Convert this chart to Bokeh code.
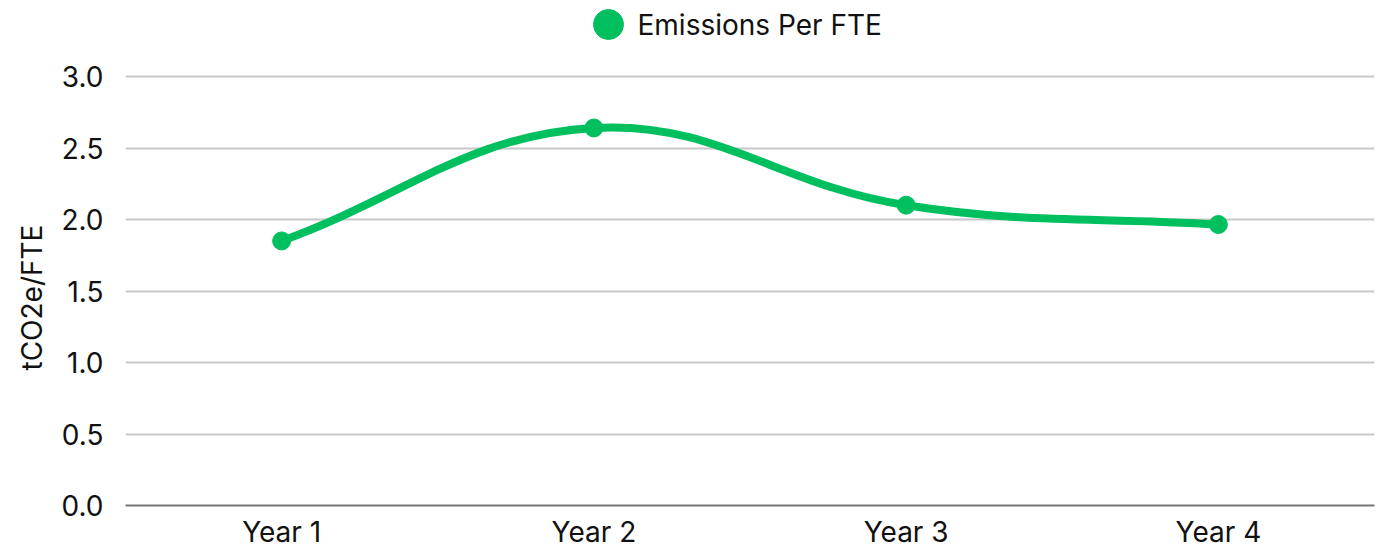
from bokeh.plotting import figure
from bokeh.models import FixedTicker, Range1d, ColumnDataSource, Title, PrintfTickFormatter
from bokeh.core.properties import value
from bokeh.embed import file_html
from bokeh.resources import INLINE
import numpy as np

categories = ["Year 1", "Year 2", "Year 3", "Year 4"]
values = [1.85, 2.64, 2.10, 1.965]
series_name = "Emissions Per FTE"
y_axis_title = "tCO2e/FTE"
y_ticks = [0.0, 0.5, 1.0, 1.5, 2.0, 2.5, 3.0]

GREEN = "#00BF5F"
FONT = "Inter"
FS = "28px"
TXT = "#111111"

BL, BR, BB = 125, 13, 44          # borders left/right/bottom of the frame
FW, FH = 1249, 505                # frame size (frame top = canvas top)
TOP_GAP = 76                      # pixels between frame top and the 3.0 gridline
y_top = max(y_ticks)
y_end = y_top * FH / (FH - TOP_GAP)

p = figure(frame_width=FW, frame_height=FH, output_backend="svg", toolbar_location=None,
           x_range=Range1d(0.5, len(categories) + 0.5), y_range=Range1d(0, y_end),
           min_border_left=BL, min_border_right=BR, min_border_bottom=BB, min_border_top=0)
p.outline_line_color = None

xs = np.arange(1, len(categories) + 1, dtype=float)
ys = np.array(values, dtype=float)

# Chart.js-style cubic spline control points (tension 0.4), computed in pixel space
tension = 0.4
sx = FW / len(categories)
sy = FH / y_end
px, py = xs * sx, ys * sy
n = len(xs)
cp_prev = np.zeros((n, 2)); cp_next = np.zeros((n, 2))
for i in range(n):
    prv = (px[max(i - 1, 0)], py[max(i - 1, 0)])
    cur = (px[i], py[i])
    nxt = (px[min(i + 1, n - 1)], py[min(i + 1, n - 1)])
    d01 = np.hypot(cur[0] - prv[0], cur[1] - prv[1])
    d12 = np.hypot(nxt[0] - cur[0], nxt[1] - cur[1])
    tot = d01 + d12
    s01 = d01 / tot if tot else 0
    s12 = d12 / tot if tot else 0
    fa, fb = tension * s01, tension * s12
    cp_prev[i] = (cur[0] - fa * (nxt[0] - prv[0]), cur[1] - fa * (nxt[1] - prv[1]))
    cp_next[i] = (cur[0] + fb * (nxt[0] - prv[0]), cur[1] + fb * (nxt[1] - prv[1]))
cp_prev[:, 0] /= sx; cp_prev[:, 1] /= sy
cp_next[:, 0] /= sx; cp_next[:, 1] /= sy

bz = ColumnDataSource(dict(
    x0=xs[:-1], y0=ys[:-1], x1=xs[1:], y1=ys[1:],
    cx0=cp_next[:-1, 0], cy0=cp_next[:-1, 1], cx1=cp_prev[1:, 0], cy1=cp_prev[1:, 1]))
p.bezier("x0", "y0", "x1", "y1", "cx0", "cy0", "cx1", "cy1", source=bz,
         line_color=GREEN, line_width=8, line_cap="round")
p.scatter(xs, ys, size=18, fill_color=GREEN, line_color=GREEN)

# legend key (drawn inside the frame's top gap), positions given in frame pixels
LEG_CX, LEG_CY, LEG_TX = 483, 24, 512
leg_y = (FH - LEG_CY) / sy
p.scatter([0.5 + LEG_CX / sx], [leg_y], size=30, fill_color=GREEN, line_color=GREEN)
p.text([0.5 + LEG_TX / sx], [leg_y], text=[series_name], text_font=value(FONT),
       text_font_size=FS, text_color=TXT, text_align="left", text_baseline="middle")

p.xaxis.ticker = FixedTicker(ticks=list(xs))
p.xaxis.major_label_overrides = {float(x): c for x, c in zip(xs, categories)}
p.xaxis.major_label_overrides.update({int(x): c for x, c in zip(xs, categories)})
p.yaxis.ticker = FixedTicker(ticks=y_ticks)
p.yaxis.formatter = PrintfTickFormatter(format="%.1f")

for ax in (p.xaxis[0], p.yaxis[0]):
    ax.major_label_text_font = FONT
    ax.major_label_text_font_size = FS
    ax.major_label_text_color = TXT
    ax.major_tick_line_color = None
    ax.minor_tick_line_color = None
    ax.major_tick_out = 0
    ax.major_tick_in = 0
    ax.axis_label_standoff = 0
p.yaxis.axis_line_color = None
p.yaxis.major_label_standoff = 22
p.xaxis.axis_line_color = "#777777"
p.xaxis.axis_line_width = 2
p.xaxis.major_label_standoff = 9

p.add_layout(Title(text=y_axis_title, align="left", offset=135, standoff=16,
                   vertical_align="top",
                   text_font=FONT, text_font_size=FS, text_font_style="normal",
                   text_color=TXT), "left")

p.xgrid.grid_line_color = None
p.ygrid.grid_line_color = "#c8c8c8"
p.ygrid.grid_line_width = 2

open("out.html", "w").write(file_html(p, INLINE))
